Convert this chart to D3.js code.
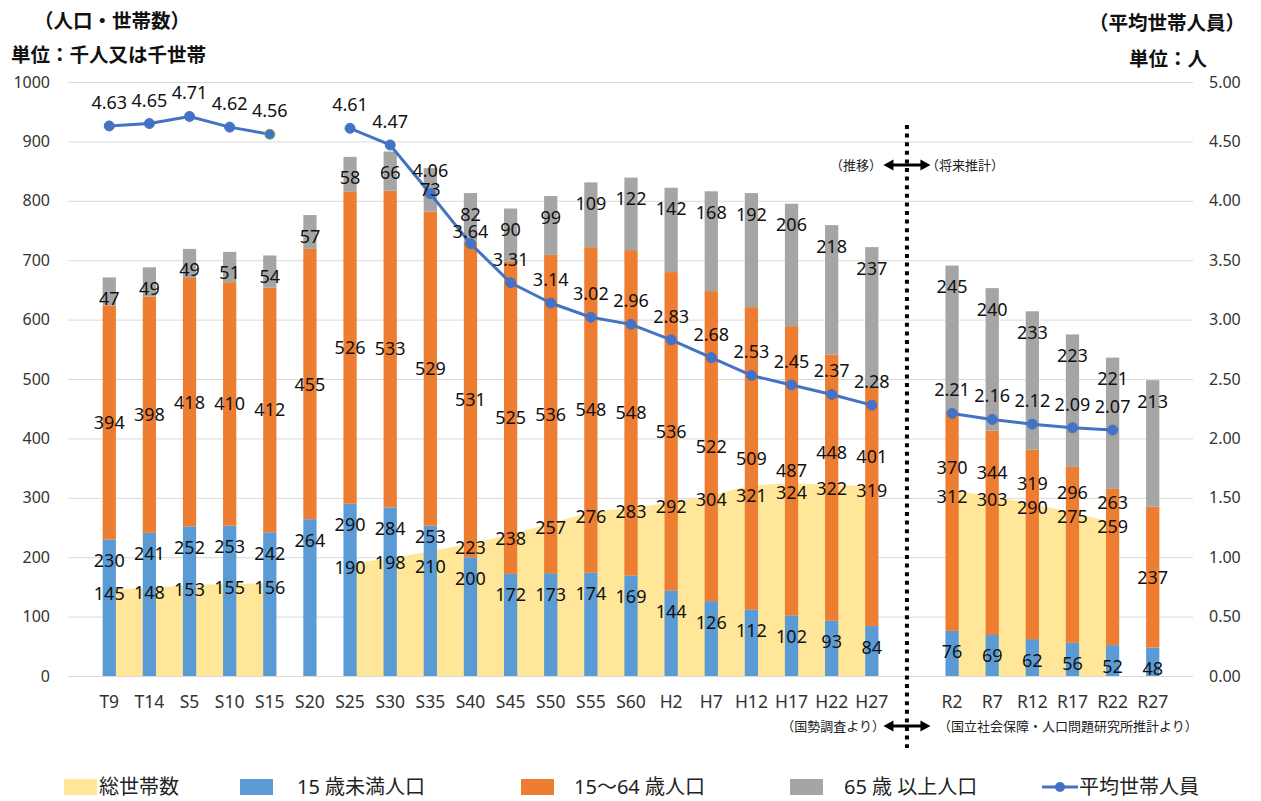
<!DOCTYPE html>
<html>
<head>
<meta charset="utf-8">
<script src="https://cdn.jsdelivr.net/npm/d3@7"></script>
<style>
  body { margin: 0; background: #fff; }
  svg { display: block; }
</style>
</head>
<body>
<svg id="chart" width="1261" height="801"></svg>
<script>
// Census years (T = Taisho, S = Showa, H = Heisei) followed by projections (R = Reiwa).
// The empty slot separates observed values from projected ones.
const categories = ["T9","T14","S5","S10","S15","S20","S25","S30","S35","S40","S45","S50","S55","S60","H2","H7","H12","H17","H22","H27","","R2","R7","R12","R17","R22","R27"];

// Population by age group (thousand persons)
const under15   = [230,241,252,253,242,264,290,284,253,200,172,173,174,169,144,126,112,102,93,84,null,76,69,62,56,52,48];
const age15to64 = [394,398,418,410,412,455,526,533,529,531,525,536,548,548,536,522,509,487,448,401,null,370,344,319,296,263,237];
const age65plus = [47,49,49,51,54,57,58,66,73,82,90,99,109,122,142,168,192,206,218,237,null,245,240,233,223,221,213];

// Total households (thousand households)
const households = [145,148,153,155,156,null,190,198,210,223,238,257,276,283,292,304,321,324,322,319,null,312,303,290,275,259,null];

// Average household size (persons)
const avgSize = [4.63,4.65,4.71,4.62,4.56,null,4.61,4.47,4.06,3.64,3.31,3.14,3.02,2.96,2.83,2.68,2.53,2.45,2.37,2.28,null,2.21,2.16,2.12,2.09,2.07,null];

// Axis ticks
const leftTicks  = [0,100,200,300,400,500,600,700,800,900,1000];
const rightTicks = [0,0.5,1,1.5,2,2.5,3,3.5,4,4.5,5];

// Legend entries
const legendLabels = ["総世帯数","15 歳未満人口","15～64 歳人口","65 歳 以上人口","平均世帯人員"];

// ---------------------------------------------------------------------------
const FONT = "'Noto Sans','Noto Sans CJK JP',sans-serif";
const COLORS = { hh: "#FFE699", u15: "#5B9BD5", mid: "#ED7D31", old: "#A5A5A5", line: "#4472C4" };

// Vertical nudges (px) for labels that would otherwise collide with neighbours.
const labelShift = {
  mid: { H22: -35, H27: -50, R2: -53, R7: -60, R12: -61, R17: -62, R22: -64 },
  u15: { S35: -10 },
  old: {},
  hh:  { S35: 11, H12: 6, H17: 5, R2: 2 },
  avg: { S40: 11 }
};
const shift = (kind, cat) => labelShift[kind][cat] || 0;

const svg = d3.select("#chart");
const plotL = 68, plotR = 1193, plotT = 82, plotB = 676;

const x = d3.scaleBand()
  .domain(d3.range(categories.length))
  .range([89.2, 1172.8])
  .paddingInner(0).paddingOuter(0);
const cx = i => x(i) + x.bandwidth() / 2;
const barW = x.bandwidth() * 0.33;

const y  = d3.scaleLinear().domain([0, 1000]).range([plotB, plotT]);
const y2 = d3.scaleLinear().domain([0, 5]).range([plotB, plotT]);

// Left axis with horizontal gridlines
const gL = svg.append("g").attr("transform", `translate(${plotL},0)`)
  .call(d3.axisLeft(y).tickValues(leftTicks).tickSizeInner(-(plotR - plotL)).tickSizeOuter(0)
    .tickPadding(18).tickFormat(d3.format("d")));
gL.select(".domain").remove();
gL.selectAll(".tick line").attr("stroke", "#d9d9d9").attr("stroke-width", 1);
gL.selectAll(".tick text").attr("font-family", FONT).attr("font-size", 16).attr("fill", "#333");

// Right axis (average household size)
const gR = svg.append("g").attr("transform", `translate(${plotR},0)`)
  .call(d3.axisRight(y2).tickValues(rightTicks).tickSize(0).tickPadding(16).tickFormat(d3.format(".2f")));
gR.select(".domain").remove();
gR.selectAll(".tick text").attr("font-family", FONT).attr("font-size", 16).attr("fill", "#333");

// Category axis
const gB = svg.append("g").attr("transform", `translate(0,${plotB})`)
  .call(d3.axisBottom(x).tickSize(0).tickPadding(20).tickFormat(i => categories[i]));
gB.select(".domain").remove();
gB.selectAll(".tick text").attr("font-family", FONT).attr("font-size", 17.5).attr("fill", "#333");

// Household area (drawn behind the bars)
const area = d3.area()
  .defined(d => d != null)
  .x((d, i) => cx(i))
  .y0(y(0))
  .y1(d => y(d));
svg.append("path").datum(households).attr("d", area).attr("fill", COLORS.hh);

// Stacked population bars
const rows = categories.map((c, i) => ({ i, cat: c, u15: under15[i], mid: age15to64[i], old: age65plus[i] }))
  .filter(r => r.u15 != null);
const stack = d3.stack().keys(["u15", "mid", "old"]);
const series = stack(rows);
const barG = svg.append("g");
series.forEach(s => {
  barG.append("g").attr("fill", COLORS[s.key])
    .selectAll("rect").data(s).join("rect")
    .attr("x", d => cx(d.data.i) - barW / 2)
    .attr("width", barW)
    .attr("y", d => y(d[1]))
    .attr("height", d => y(d[0]) - y(d[1]));
});

// Average household size line
const line = d3.line()
  .defined(d => d != null)
  .x((d, i) => cx(i))
  .y(d => y2(d));
svg.append("path").datum(avgSize).attr("d", line)
  .attr("fill", "none").attr("stroke", COLORS.line).attr("stroke-width", 3).attr("stroke-linejoin", "round");
svg.append("g").selectAll("circle")
  .data(avgSize.map((v, i) => ({ v, i })).filter(d => d.v != null))
  .join("circle")
  .attr("cx", d => cx(d.i)).attr("cy", d => y2(d.v)).attr("r", 5)
  .attr("fill", COLORS.line)
  .attr("stroke", d => categories[d.i] === "S15" ? "#70AD47" : COLORS.line)
  .attr("stroke-width", 1);

// Data labels
const lab = svg.append("g").attr("font-family", FONT).attr("font-size", 18).attr("fill", "#111")
  .attr("text-anchor", "middle");
const addLabel = (xp, yp, txt) => lab.append("text").attr("x", xp).attr("y", yp).attr("dy", "0.36em").text(txt);

series.forEach(s => {
  s.forEach(d => {
    const v = d.data[s.key];
    const base = s.key === "mid" ? (y(d[0]) + y(d[1])) / 2 : y(d[1]) + 21;
    addLabel(cx(d.data.i), base + shift(s.key, d.data.cat), v);
  });
});
households.forEach((v, i) => {
  if (v != null) addLabel(cx(i), y(v) + 4 + shift("hh", categories[i]), v);
});
avgSize.forEach((v, i) => {
  if (v != null) addLabel(cx(i), y2(v) - 23.5 + shift("avg", categories[i]), d3.format(".2f")(v));
});

// Divider between observed and projected periods
const divX = (cx(categories.indexOf("H27")) + cx(categories.indexOf("R2"))) / 2 - 5;
svg.append("line")
  .attr("x1", divX).attr("x2", divX).attr("y1", 125).attr("y2", 748)
  .attr("stroke", "#000").attr("stroke-width", 4).attr("stroke-dasharray", "4 4.6");

function doubleArrow(yA) {
  const half = 23.5, head = 10, hw = 5.5;
  const g = svg.append("g").attr("fill", "#000").attr("stroke", "#000");
  g.append("line").attr("x1", divX - half + head - 1).attr("x2", divX + half - head + 1)
    .attr("y1", yA).attr("y2", yA).attr("stroke-width", 3);
  g.append("path").attr("stroke", "none")
    .attr("d", `M${divX - half},${yA} L${divX - half + head},${yA - hw} L${divX - half + head},${yA + hw} Z`);
  g.append("path").attr("stroke", "none")
    .attr("d", `M${divX + half},${yA} L${divX + half - head},${yA - hw} L${divX + half - head},${yA + hw} Z`);
}
doubleArrow(165);
doubleArrow(726);

const note = svg.append("g").attr("font-family", FONT).attr("font-size", 13).attr("fill", "#222");
note.append("text").attr("x", divX - 25).attr("y", 165).attr("dy", "0.36em").attr("text-anchor", "end").text("（推移）");
note.append("text").attr("x", divX + 19).attr("y", 165).attr("dy", "0.36em").text("（将来推計）");
note.append("text").attr("x", divX - 22).attr("y", 726).attr("dy", "0.36em").attr("text-anchor", "end").text("（国勢調査より）");
note.append("text").attr("x", divX + 31).attr("y", 726).attr("dy", "0.36em").text("（国立社会保障・人口問題研究所推計より）");

// Axis titles
const titles = svg.append("g").attr("font-family", FONT).attr("font-size", 19.5).attr("font-weight", "bold").attr("fill", "#111");
titles.append("text").attr("x", 34).attr("y", 28).text("（人口・世帯数）");
titles.append("text").attr("x", 11).attr("y", 62).text("単位：千人又は千世帯");
titles.append("text").attr("x", 1089).attr("y", 30).text("（平均世帯人員）");
titles.append("text").attr("x", 1129).attr("y", 66).text("単位：人");

// Legend
const legend = svg.append("g").attr("font-family", FONT).attr("font-size", 20).attr("fill", "#222");
const legendItems = [
  { label: legendLabels[0], color: COLORS.hh,  sx: 64,   tx: 99 },
  { label: legendLabels[1], color: COLORS.u15, sx: 240,  tx: 297 },
  { label: legendLabels[2], color: COLORS.mid, sx: 521,  tx: 574 },
  { label: legendLabels[3], color: COLORS.old, sx: 790,  tx: 844 },
];
const legY = 787;
legendItems.forEach(it => {
  legend.append("rect").attr("x", it.sx).attr("y", legY - 8).attr("width", 33).attr("height", 16).attr("fill", it.color);
  legend.append("text").attr("x", it.tx).attr("y", legY).attr("dy", "0.36em").text(it.label);
});
legend.append("line").attr("x1", 1042).attr("x2", 1078).attr("y1", legY).attr("y2", legY)
  .attr("stroke", COLORS.line).attr("stroke-width", 3);
legend.append("circle").attr("cx", 1060).attr("cy", legY).attr("r", 5).attr("fill", COLORS.line);
legend.append("text").attr("x", 1079).attr("y", legY).attr("dy", "0.36em").text(legendLabels[4]);
</script>
</body>
</html>
